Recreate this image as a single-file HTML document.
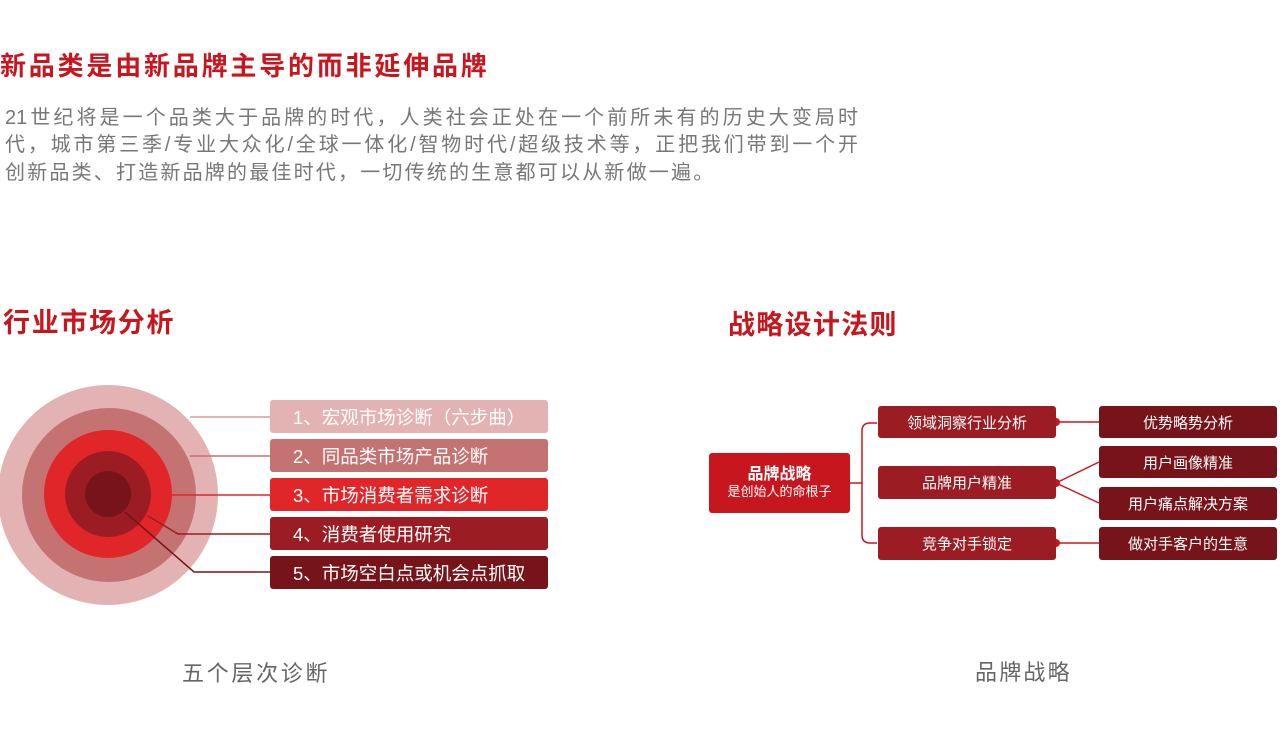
<!DOCTYPE html>
<html><head><meta charset="utf-8"><style>
body{margin:0;width:1280px;height:752px;background:#fff;position:relative;overflow:hidden;font-family:"Liberation Sans","Noto Sans CJK SC",sans-serif}
.a{position:absolute;white-space:nowrap}
.t{color:#c8161e;font-weight:bold}
.p{color:#777;font-size:20px;letter-spacing:2.2px;left:5px;width:853px;line-height:28px}
.j{text-align:justify;text-align-last:justify;letter-spacing:0}
.b{position:absolute;border-radius:3px;color:#fff;font-size:18.5px;display:flex;align-items:center}
.l{padding-left:23px;box-sizing:border-box}
.c{justify-content:center}
</style></head><body>
<div class="a t" style="left:0;top:46px;font-size:26px;letter-spacing:2.8px">新品类是由新品牌主导的而非延伸品牌</div>
<div class="a p j" style="top:104px">21世纪将是一个品类大于品牌的时代，人类社会正处在一个前所未有的历史大变局时</div>
<div class="a p j" style="top:131px">代，城市第三季/专业大众化/全球一体化/智物时代/超级技术等，正把我们带到一个开</div>
<div class="a p" style="top:159px">创新品类、打造新品牌的最佳时代，一切传统的生意都可以从新做一遍。</div>
<div class="a t" style="left:3px;top:301px;font-size:27px;letter-spacing:1.7px">行业市场分析</div>
<div class="a t" style="left:728px;top:303px;font-size:27px;letter-spacing:1.3px">战略设计法则</div>
<div class="a" style="left:182px;top:656px;font-size:22px;letter-spacing:2.7px;color:#666">五个层次诊断</div>
<div class="a" style="left:975px;top:655px;font-size:22px;letter-spacing:2.2px;color:#666">品牌战略</div>
<svg class="a" style="left:0;top:0" width="1280" height="752">
<circle cx="108" cy="495" r="110" fill="#e3b3b3"/>
<circle cx="109" cy="495" r="87" fill="#c47272"/>
<circle cx="108" cy="494" r="64" fill="#e1262a"/>
<circle cx="108" cy="494" r="43" fill="#9b1c22"/>
<circle cx="108" cy="494" r="23" fill="#76141a"/>
<g fill="none" stroke-width="1.5">
<polyline points="190,417 270,417" stroke="#d99"/>
<polyline points="190,456 270,456" stroke="#c47272"/>
<polyline points="172,495 270,495" stroke="#e1262a"/>
<polyline points="148,516 178,534 270,534" stroke="#9b1c22"/>
<polyline points="125,512 194,572 270,572" stroke="#76141a"/>
<path d="M850 483 H862 M877 423 H870 Q862 423 862 431 V535 Q862 543 870 543 H877" stroke="#c8161e"/>
<path d="M1056 422 H1099 M1056 483 L1099 462 M1056 483 L1099 503 M1056 543 H1099" stroke="#c8161e"/>
</g>
<g fill="#c8161e"><circle cx="1056" cy="422" r="4"/><circle cx="1056" cy="483" r="4"/><circle cx="1056" cy="543" r="4"/></g>
</svg>
<div class="b l" style="left:270px;top:400px;width:278px;height:33px;background:#e3b3b3">1、宏观市场诊断（六步曲）</div>
<div class="b l" style="left:270px;top:439px;width:278px;height:33px;background:#c47272">2、同品类市场产品诊断</div>
<div class="b l" style="left:270px;top:478px;width:278px;height:33px;background:#e1262a">3、市场消费者需求诊断</div>
<div class="b l" style="left:270px;top:517px;width:278px;height:33px;background:#9b1c22">4、消费者使用研究</div>
<div class="b l" style="left:270px;top:556px;width:278px;height:33px;background:#76141a">5、市场空白点或机会点抓取</div>
<div class="b c" style="left:709px;top:453px;width:141px;height:60px;background:#c8161e;flex-direction:column;line-height:17px"><b style="font-size:16px">品牌战略</b><span style="font-size:13px">是创始人的命根子</span></div>
<div class="b c" style="left:878px;top:406px;width:178px;height:32px;background:#9b1c22;font-size:15px">领域洞察行业分析</div>
<div class="b c" style="left:878px;top:466px;width:178px;height:33px;background:#9b1c22;font-size:15px">品牌用户精准</div>
<div class="b c" style="left:878px;top:527px;width:178px;height:33px;background:#9b1c22;font-size:15px">竞争对手锁定</div>
<div class="b c" style="left:1099px;top:406px;width:178px;height:32px;background:#76141a;font-size:15px">优势略势分析</div>
<div class="b c" style="left:1099px;top:446px;width:178px;height:32px;background:#76141a;font-size:15px">用户画像精准</div>
<div class="b c" style="left:1099px;top:487px;width:178px;height:33px;background:#76141a;font-size:15px">用户痛点解决方案</div>
<div class="b c" style="left:1099px;top:527px;width:178px;height:33px;background:#76141a;font-size:15px">做对手客户的生意</div>
</body></html>
